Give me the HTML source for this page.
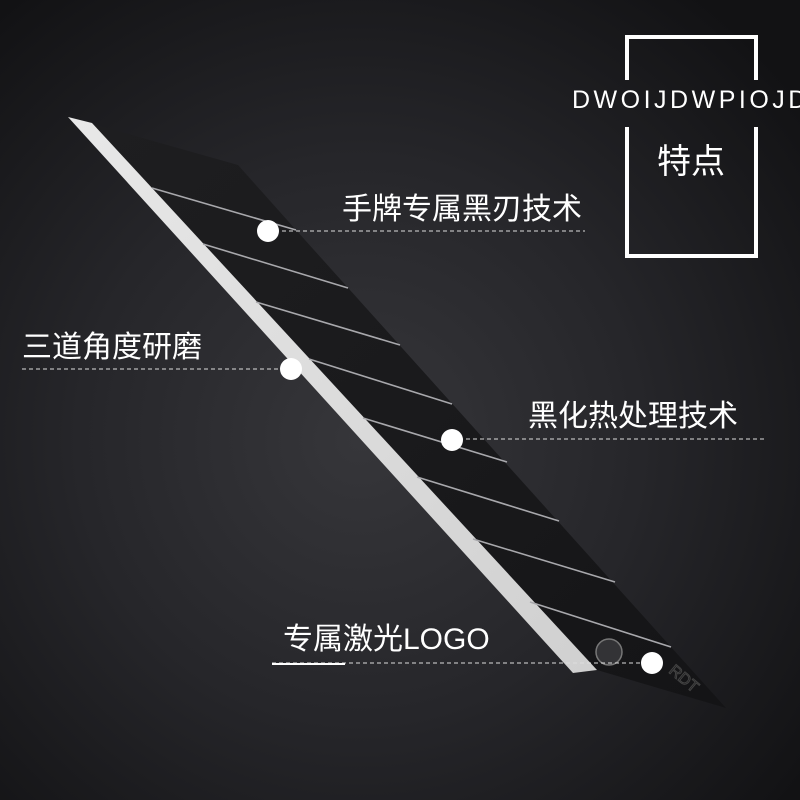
<!DOCTYPE html>
<html><head><meta charset="utf-8"><style>
html,body{margin:0;padding:0}
body{width:800px;height:800px;overflow:hidden;background:radial-gradient(ellipse 70% 70% at 45% 55%,#36363a 0%,#26262a 50%,#121214 100%);position:relative;font-family:"Liberation Sans","Noto Sans CJK SC",sans-serif;color:#fff}
.t{position:absolute;white-space:nowrap;line-height:1}
</style></head><body>
<svg width="800" height="800" style="position:absolute;left:0;top:0">
<defs>
<linearGradient id="bl" x1="0" y1="0" x2="1" y2="1">
<stop offset="0" stop-color="#1e1e20"/><stop offset="0.5" stop-color="#1a1a1c"/><stop offset="1" stop-color="#141416"/></linearGradient>
<linearGradient id="sv" x1="0" y1="0" x2="1" y2="1">
<stop offset="0" stop-color="#e8e8e8"/><stop offset="1" stop-color="#d0d0d0"/></linearGradient>
</defs>
<polygon points="68,117 238,165 296,230 671,647 726,708 597,670 573,673" fill="url(#bl)"/>
<polygon points="68,117 92,123 597,670 573,673" fill="url(#sv)"/>
<g stroke="#a8a8ac" stroke-width="1.6">
<line x1="152" y1="188" x2="296" y2="230"/>
<line x1="203" y1="244" x2="348" y2="288"/>
<line x1="256" y1="302" x2="400" y2="345"/>
<line x1="309" y1="359" x2="452" y2="404"/>
<line x1="363" y1="418" x2="507" y2="462"/>
<line x1="417" y1="477" x2="559" y2="521"/>
<line x1="473" y1="539" x2="615" y2="582"/>
<line x1="530" y1="602" x2="671" y2="647"/>
</g>
<circle cx="609" cy="652" r="13" fill="#333336" stroke="#777" stroke-width="1.5"/>
<text x="668" y="672" fill="none" stroke="#444" font-size="16" font-family="Liberation Sans" transform="rotate(40 668 672)">RDT</text>
<g stroke="#ddd" stroke-width="1" stroke-dasharray="4,3">
<line x1="268" y1="231" x2="585" y2="231"/>
<line x1="22" y1="369" x2="291" y2="369"/>
<line x1="452" y1="439" x2="765" y2="439"/>
<line x1="272" y1="663" x2="650" y2="663"/>
</g>
<line x1="272" y1="664" x2="345" y2="664" stroke="#fff" stroke-width="2"/>
<g fill="#fff">
<circle cx="268" cy="231" r="11"/>
<circle cx="291" cy="369" r="11"/>
<circle cx="452" cy="440" r="11"/>
<circle cx="652" cy="663" r="11"/>
</g>
<path d="M627,80 V37 H756 V80 M627,127 V256 H756 V127" fill="none" stroke="#fff" stroke-width="4"/>
</svg>
<div class="t" style="left:572px;top:88px;font-size:25px;letter-spacing:3.5px;font-weight:300">DWOIJDWPIOJD</div>
<div class="t" style="left:657px;top:145px;font-size:34px">特点</div>
<div class="t" style="left:342px;top:195px;font-size:30px">手牌专属黑刃技术</div>
<div class="t" style="left:22px;top:333px;font-size:30px">三道角度研磨</div>
<div class="t" style="left:528px;top:402px;font-size:30px">黑化热处理技术</div>
<div class="t" style="left:283px;top:625px;font-size:30px">专属激光LOGO</div>
</body></html>
